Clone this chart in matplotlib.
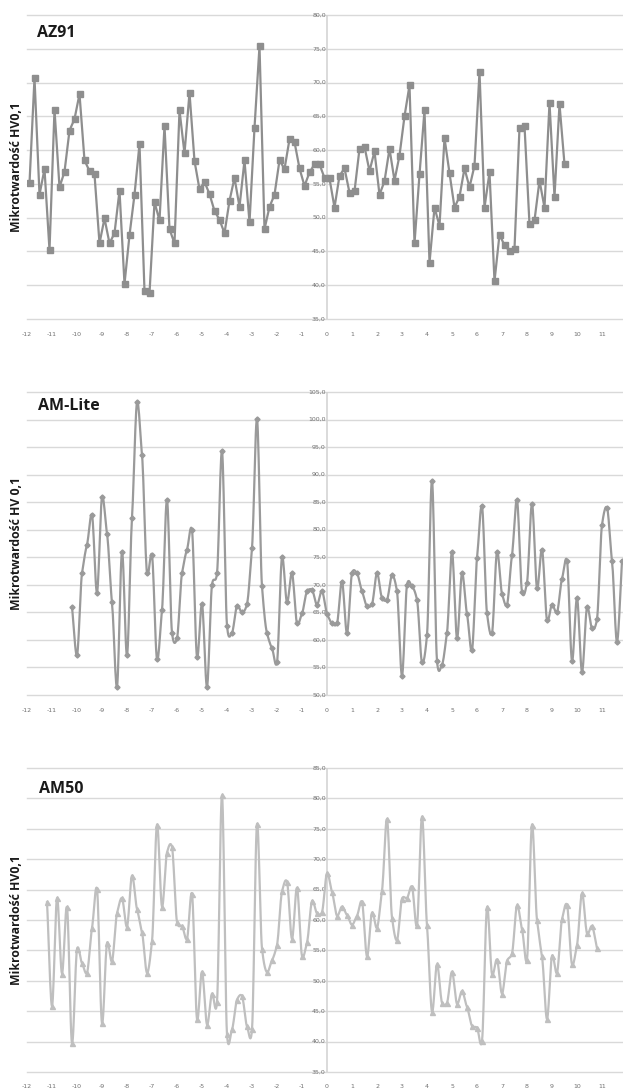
import numpy as np
import matplotlib
matplotlib.use("Agg")
import matplotlib.pyplot as plt
from matplotlib.ticker import FuncFormatter, FixedLocator

# ---------------- data ----------------
az91_x = [-11.9, -11.7, -11.5, -11.3, -11.1, -10.9, -10.7, -10.5, -10.3, -10.1,
          -9.9, -9.7, -9.5, -9.3, -9.1, -8.9, -8.7, -8.5, -8.3, -8.1,
          -7.9, -7.7, -7.5, -7.3, -7.1, -6.9, -6.7, -6.5, -6.3, -6.1,
          -5.9, -5.7, -5.5, -5.3, -5.1, -4.9, -4.7, -4.5, -4.3, -4.1,
          -3.9, -3.7, -3.5, -3.3, -3.1, -2.9, -2.7, -2.5, -2.3, -2.1,
          -1.9, -1.7, -1.5, -1.3, -1.1, -0.9, -0.7, -0.5, -0.3, -0.1,
          0.1, 0.3, 0.5, 0.7, 0.9, 1.1, 1.3, 1.5, 1.7, 1.9,
          2.1, 2.3, 2.5, 2.7, 2.9, 3.1, 3.3, 3.5, 3.7, 3.9,
          4.1, 4.3, 4.5, 4.7, 4.9, 5.1, 5.3, 5.5, 5.7, 5.9,
          6.1, 6.3, 6.5, 6.7, 6.9, 7.1, 7.3, 7.5, 7.7, 7.9,
          8.1, 8.3, 8.5, 8.7, 8.9, 9.1, 9.3, 9.5]
az91_y = [55.1, 70.7, 53.4, 57.2, 45.2, 66.0, 54.5, 56.8, 62.9, 64.6,
          68.3, 58.5, 56.9, 56.4, 46.2, 49.9, 46.2, 47.7, 54.0, 40.2,
          47.4, 53.4, 60.9, 39.1, 38.8, 52.3, 49.6, 63.6, 48.3, 46.2,
          65.9, 59.5, 68.5, 58.4, 54.2, 55.3, 53.5, 51.0, 49.7, 47.7,
          52.5, 55.9, 51.6, 58.5, 49.3, 63.3, 75.4, 48.3, 51.6, 53.4,
          58.5, 57.2, 61.6, 61.2, 57.3, 54.7, 56.7, 57.9, 57.9, 55.9,
          55.8, 51.5, 56.2, 57.3, 53.7, 53.9, 60.2, 60.5, 56.9, 59.8,
          53.4, 55.4, 60.2, 55.5, 59.2, 65.0, 69.6, 46.2, 56.4, 65.9,
          43.3, 51.5, 48.8, 61.8, 56.6, 51.5, 53.1, 57.3, 54.5, 57.7,
          71.6, 51.5, 56.7, 40.6, 47.5, 45.9, 45.1, 45.4, 63.3, 63.6,
          49.0, 49.6, 55.5, 51.5, 67.0, 53.1, 66.8, 57.9]

amlite_x = [-10.2, -10.0, -9.8, -9.6, -9.4, -9.2, -9.0, -8.8, -8.6, -8.4,
            -8.2, -8.0, -7.8, -7.6, -7.4, -7.2, -7.0, -6.8, -6.6, -6.4,
            -6.2, -6.0, -5.8, -5.6, -5.4, -5.2, -5.0, -4.8, -4.6, -4.4,
            -4.2, -4.0, -3.8, -3.6, -3.4, -3.2, -3.0, -2.8, -2.6, -2.4,
            -2.2, -2.0, -1.8, -1.6, -1.4, -1.2, -1.0, -0.8, -0.6, -0.4,
            -0.2, 0.0, 0.2, 0.4, 0.6, 0.8, 1.0, 1.2, 1.4, 1.6,
            1.8, 2.0, 2.2, 2.4, 2.6, 2.8, 3.0, 3.2, 3.4, 3.6,
            3.8, 4.0, 4.2, 4.4, 4.6, 4.8, 5.0, 5.2, 5.4, 5.6,
            5.8, 6.0, 6.2, 6.4, 6.6, 6.8, 7.0, 7.2, 7.4, 7.6,
            7.8, 8.0, 8.2, 8.4, 8.6, 8.8, 9.0, 9.2, 9.4, 9.6,
            9.8, 10.0, 10.2, 10.4, 10.6, 10.8, 11.0, 11.2, 11.4, 11.6,
            11.8]
amlite_y = [65.9, 57.2, 72.1, 77.3, 82.7, 68.6, 85.9, 79.3, 66.8, 51.5,
            76.0, 57.2, 82.2, 103.1, 93.6, 72.1, 75.4, 56.5, 65.4, 85.4,
            61.3, 60.3, 72.1, 76.4, 79.9, 56.9, 66.5, 51.5, 70.0, 72.1,
            94.3, 62.6, 61.3, 66.2, 65.0, 66.5, 76.7, 100.1, 69.7, 61.2,
            58.5, 55.9, 75.0, 66.8, 72.1, 63.0, 64.8, 68.8, 69.1, 66.4,
            68.9, 64.7, 63.0, 63.0, 70.6, 61.2, 72.1, 72.1, 68.8, 66.1,
            66.5, 72.1, 67.6, 67.3, 71.7, 68.8, 53.5, 70.0, 69.7, 67.3,
            55.9, 60.9, 88.9, 56.2, 55.5, 61.3, 76.0, 60.3, 72.1, 64.7,
            58.1, 74.8, 84.3, 64.8, 61.2, 76.0, 68.4, 66.4, 75.4, 85.4,
            68.7, 70.4, 84.7, 69.4, 76.4, 63.6, 66.4, 65.0, 71.1, 74.4,
            56.2, 67.6, 54.2, 65.9, 62.1, 63.8, 80.9, 84.0, 74.4, 59.6,
            74.4]

am50_x = [-11.2, -11.0, -10.8, -10.6, -10.4, -10.2, -10.0, -9.8, -9.6, -9.4,
          -9.2, -9.0, -8.8, -8.6, -8.4, -8.2, -8.0, -7.8, -7.6, -7.4,
          -7.2, -7.0, -6.8, -6.6, -6.4, -6.2, -6.0, -5.8, -5.6, -5.4,
          -5.2, -5.0, -4.8, -4.6, -4.4, -4.2, -4.0, -3.8, -3.6, -3.4,
          -3.2, -3.0, -2.8, -2.6, -2.4, -2.2, -2.0, -1.8, -1.6, -1.4,
          -1.2, -1.0, -0.8, -0.6, -0.4, -0.2, 0.0, 0.2, 0.4, 0.6,
          0.8, 1.0, 1.2, 1.4, 1.6, 1.8, 2.0, 2.2, 2.4, 2.6,
          2.8, 3.0, 3.2, 3.4, 3.6, 3.8, 4.0, 4.2, 4.4, 4.6,
          4.8, 5.0, 5.2, 5.4, 5.6, 5.8, 6.0, 6.2, 6.4, 6.6,
          6.8, 7.0, 7.2, 7.4, 7.6, 7.8, 8.0, 8.2, 8.4, 8.6,
          8.8, 9.0, 9.2, 9.4, 9.6, 9.8, 10.0, 10.2, 10.4, 10.6,
          10.8]
am50_y = [62.9, 45.8, 63.6, 51.2, 62.1, 39.7, 55.2, 52.9, 51.3, 58.7,
          65.1, 43.0, 56.2, 53.2, 61.1, 63.6, 58.9, 67.3, 61.8, 58.0,
          51.3, 56.5, 75.7, 62.2, 71.1, 72.0, 59.7, 59.0, 56.9, 64.3,
          43.7, 51.5, 42.8, 47.9, 46.5, 80.5, 41.2, 42.0, 46.9, 47.5,
          42.5, 42.0, 75.8, 55.3, 51.4, 53.4, 55.9, 64.7, 66.3, 56.9,
          65.3, 54.1, 56.3, 63.1, 61.1, 61.3, 67.7, 64.6, 60.7, 62.2,
          60.8, 59.2, 60.7, 63.0, 54.0, 61.2, 58.7, 64.8, 76.6, 60.4,
          56.7, 63.5, 63.6, 65.5, 59.1, 77.0, 59.1, 44.9, 52.7, 46.4,
          46.4, 51.5, 46.2, 48.3, 45.7, 42.6, 42.3, 40.1, 62.1, 51.1,
          53.5, 47.9, 53.3, 54.5, 62.4, 58.5, 53.5, 75.7, 60.0, 54.0,
          43.7, 54.1, 51.3, 60.1, 62.5, 52.7, 55.9, 64.4, 57.8, 59.0,
          55.4]

titles = ["AZ91", "AM-Lite", "AM50"]
ylabels = ["Mikrotwardość HV0,1", "Mikrotwardość HV 0,1", "Mikrotwardość HV0,1"]
x_ticks = list(range(-12, 12))
y_ticks = [list(range(35, 81, 5)), list(range(50, 106, 5)), list(range(35, 86, 5))]


def smooth(x, y, n=12, k=0.6):
    """Cardinal-spline curve through the data points (Excel-like smoothed line)."""
    p = np.column_stack([x, y]).astype(float)
    p = np.vstack([p[0], p, p[-1]])
    out = []
    t = np.linspace(0, 1, n, endpoint=False)
    h00 = 2 * t**3 - 3 * t**2 + 1
    h10 = t**3 - 2 * t**2 + t
    h01 = -2 * t**3 + 3 * t**2
    h11 = t**3 - t**2
    for i in range(1, len(p) - 2):
        p0, p1, p2, p3 = p[i - 1], p[i], p[i + 1], p[i + 2]
        m1 = (p2 - p0) / 2.0
        m2 = (p3 - p1) / 2.0
        m1 = np.array([m1[0], m1[1] * k])
        m2 = np.array([m2[0], m2[1] * k])
        seg = (np.outer(h00, p1) + np.outer(h10, m1) + np.outer(h01, p2) + np.outer(h11, m2))
        out.append(seg)
    out.append(p[-2][None, :])
    c = np.vstack(out)
    return c[:, 0], c[:, 1]


W, H = 623, 1088
fig = plt.figure(figsize=(W / 100, H / 100), dpi=100)

# pixel geometry: x=0 at px 327, 25 px per unit
x0_px, px_per_unit = 327.0, 25.0
xmin, xmax = -12.0, (W - x0_px) / px_per_unit
left_px = x0_px + xmin * px_per_unit

panels = [
    dict(x=az91_x, y=az91_y, ylim=(35, 80), top=15, bot=319, color="#8e8e8e",
         marker="s", ms=4.2, smooth=False),
    dict(x=amlite_x, y=amlite_y, ylim=(50, 105), top=392, bot=695, color="#9a9a9a",
         marker="D", ms=2.6, smooth=True),
    dict(x=am50_x, y=am50_y, ylim=(35, 85), top=768, bot=1072, color="#bfbfbf",
         marker="^", ms=3.6, smooth=True),
]
title_pos = [(37, 33), (38, 406), (39, 789)]

fmt = FuncFormatter(lambda v, pos: f"{v:.1f}".replace(".", ","))

for i, p in enumerate(panels):
    ax = fig.add_axes([left_px / W, 1 - p["bot"] / H, (W - left_px) / W,
                       (p["bot"] - p["top"]) / H])
    ax.set_xlim(xmin, xmax)
    ax.set_ylim(*p["ylim"])
    for s in ax.spines.values():
        s.set_visible(False)
    # gridlines
    for yv in y_ticks[i]:
        ax.axhline(yv, color="#d9d9d9", lw=1.0, zorder=0, clip_on=False)
    ax.axvline(0, color="#d4d4d4", lw=1.2, zorder=0.5)
    ax.set_yticks([])
    ax.xaxis.set_major_locator(FixedLocator(x_ticks))
    ax.tick_params(axis="x", length=0, labelsize=4.5, labelcolor="#707070", pad=9)
    ax.set_xticklabels([str(t) for t in x_ticks])
    # y tick labels next to the central axis
    for yv in y_ticks[i]:
        ax.text(-0.05, yv, fmt(yv), ha="right", va="center", fontsize=4.5,
                color="#707070", zorder=1)
    # data
    if p["smooth"]:
        sx, sy = smooth(p["x"], p["y"])
        ax.plot(sx, sy, color=p["color"], lw=1.6, zorder=2, clip_on=True)
    else:
        ax.plot(p["x"], p["y"], color=p["color"], lw=1.6, zorder=2)
    ax.plot(p["x"], p["y"], ls="none", marker=p["marker"], ms=p["ms"],
            color=p["color"], mec=p["color"], zorder=3)
    # title and y label
    fig.text(title_pos[i][0] / W, 1 - title_pos[i][1] / H, titles[i],
             fontsize=11.5, fontweight="bold", family="Open Sans", color="#1a1a1a",
             ha="left", va="center")
    fig.text(17 / W, 1 - ((p["top"] + p["bot"]) / 2) / H, ylabels[i],
             fontsize=8.8, fontweight="bold", family="Open Sans", color="#1a1a1a",
             rotation=90, ha="center", va="center")

fig.savefig("out.png", dpi=100)
